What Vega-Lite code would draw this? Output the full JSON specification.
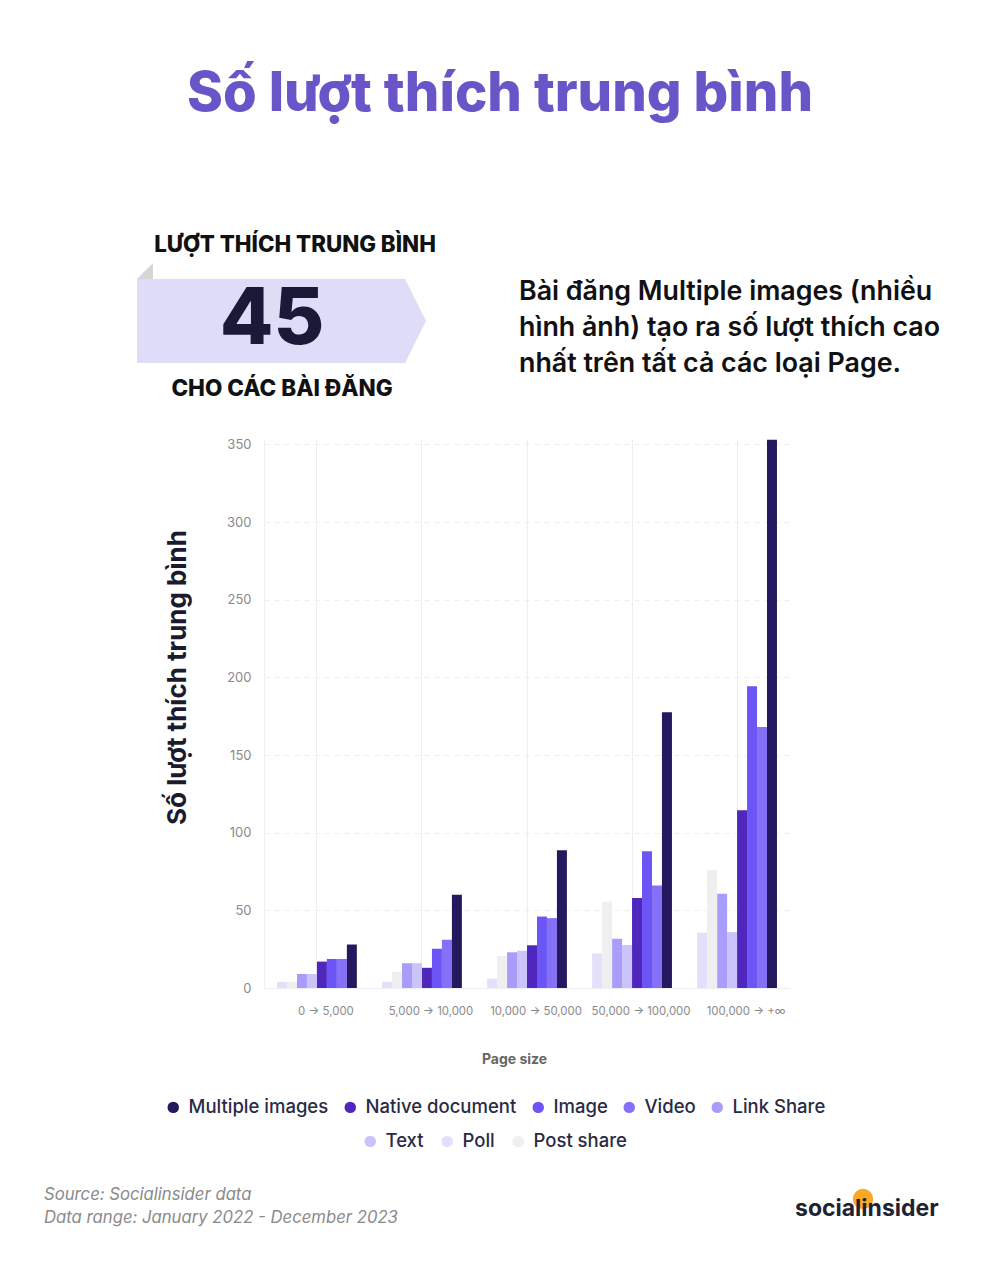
{"$schema":"https://vega.github.io/schema/vega-lite/v6.json","width":526,"height":549,"autosize":{"type":"none"},"padding":{"left":264,"top":439,"right":210,"bottom":282},"background":"white","config":{"font":"Inter","view":{"stroke":null}},
"data":{"values":[
{"size":"0 → 5,000","series":"Poll","likes":4},{"size":"0 → 5,000","series":"Post share","likes":4},{"size":"0 → 5,000","series":"Link Share","likes":9},{"size":"0 → 5,000","series":"Text","likes":9},{"size":"0 → 5,000","series":"Native document","likes":17},{"size":"0 → 5,000","series":"Image","likes":18.7},{"size":"0 → 5,000","series":"Video","likes":18.7},{"size":"0 → 5,000","series":"Multiple images","likes":28},
{"size":"5,000 → 10,000","series":"Poll","likes":4},{"size":"5,000 → 10,000","series":"Post share","likes":10.5},{"size":"5,000 → 10,000","series":"Link Share","likes":16},{"size":"5,000 → 10,000","series":"Text","likes":16},{"size":"5,000 → 10,000","series":"Native document","likes":13},{"size":"5,000 → 10,000","series":"Image","likes":25.3},{"size":"5,000 → 10,000","series":"Video","likes":31},{"size":"5,000 → 10,000","series":"Multiple images","likes":60},
{"size":"10,000 → 50,000","series":"Poll","likes":6},{"size":"10,000 → 50,000","series":"Post share","likes":20.6},{"size":"10,000 → 50,000","series":"Link Share","likes":23},{"size":"10,000 → 50,000","series":"Text","likes":24},{"size":"10,000 → 50,000","series":"Native document","likes":27.5},{"size":"10,000 → 50,000","series":"Image","likes":46},{"size":"10,000 → 50,000","series":"Video","likes":45},{"size":"10,000 → 50,000","series":"Multiple images","likes":88.7},
{"size":"50,000 → 100,000","series":"Poll","likes":22.3},{"size":"50,000 → 100,000","series":"Post share","likes":55.5},{"size":"50,000 → 100,000","series":"Link Share","likes":31.7},{"size":"50,000 → 100,000","series":"Text","likes":27.7},{"size":"50,000 → 100,000","series":"Native document","likes":58},{"size":"50,000 → 100,000","series":"Image","likes":88},{"size":"50,000 → 100,000","series":"Video","likes":66},{"size":"50,000 → 100,000","series":"Multiple images","likes":177.6},
{"size":"100,000 → +∞","series":"Poll","likes":35.6},{"size":"100,000 → +∞","series":"Post share","likes":76},{"size":"100,000 → +∞","series":"Link Share","likes":60.7},{"size":"100,000 → +∞","series":"Text","likes":36},{"size":"100,000 → +∞","series":"Native document","likes":114.5},{"size":"100,000 → +∞","series":"Image","likes":194.3},{"size":"100,000 → +∞","series":"Video","likes":168},{"size":"100,000 → +∞","series":"Multiple images","likes":353}
]},
"encoding":{
"x":{"field":"size","type":"nominal","sort":null,"scale":{"paddingInner":0.24,"paddingOuter":0.124},"axis":{"title":"Page size","titleFontSize":14,"titleFontWeight":700,"titleColor":"#666666","titleX":250,"titleY":64,"labelAngle":0,"labelFontSize":11.4,"labelColor":"#8a8a8a","labelPadding":17,"labelOffset":9,"ticks":false,"domainColor":"#eeeef2","grid":true,"gridColor":"#eeeef2","labelFlush":false}},
"xOffset":{"field":"series","type":"nominal","scale":{"domain":["Poll","Post share","Link Share","Text","Native document","Image","Video","Multiple images"],"paddingInner":0,"paddingOuter":0}},
"y":{"field":"likes","type":"quantitative","scale":{"domain":[0,353.5],"nice":false},"axis":{"title":"Số lượt thích trung bình","titleFontSize":26,"titleFontWeight":700,"titleColor":"#1c1b2e","titleX":-74,"titleY":238,"values":[0,50,100,150,200,250,300,350],"labelFontSize":13,"labelColor":"#8a8a8a","labelPadding":13,"ticks":false,"domainColor":"#eeeef2","gridColor":"#eeeef2","gridDash":[5,5]}}
},
"layer":[
{"transform":[{"filter":"indexof(['Multiple images','Native document','Image','Video','Link Share'],datum.series)>=0"}],"mark":{"type":"bar"},"encoding":{"color":{"field":"series","type":"nominal","scale":{"domain":["Multiple images","Native document","Image","Video","Link Share"],"range":["#26185f","#4f27bd","#6c55f5","#8570f8","#a99dfc"]},"legend":{"title":null,"orient":"none","legendX":-100,"legendY":659,"direction":"horizontal","columns":5,"symbolType":"circle","symbolSize":130,"labelFontSize":18.5,"labelFontWeight":500,"labelColor":"#2b2a45","labelOffset":6,"columnPadding":12,"labelLimit":300}}}},
{"transform":[{"filter":"indexof(['Text','Poll','Post share'],datum.series)>=0"}],"mark":{"type":"bar"},"encoding":{"fill":{"field":"series","type":"nominal","scale":{"domain":["Text","Poll","Post share"],"range":["#cbc3fb","#e4e0fb","#efefef"]},"legend":{"title":null,"orient":"none","legendX":97,"legendY":693,"direction":"horizontal","columns":3,"symbolType":"circle","symbolSize":130,"labelFontSize":18.5,"labelFontWeight":500,"labelColor":"#2b2a45","labelOffset":6,"columnPadding":14,"labelLimit":300}}}},
{"data":{"values":[{"t":"Số lượt thích trung bình"}]},"mark":{"type":"text","x":236,"y":-344,"align":"center","baseline":"middle","fontSize":54.5,"fontWeight":800,"color":"#6a55c8"},"encoding":{"text":{"field":"t"},"x":null,"y":null,"xOffset":null}},
{"data":{"values":[{"t":"LƯỢT THÍCH TRUNG BÌNH"}]},"mark":{"type":"text","x":31,"y":-194,"align":"center","baseline":"middle","fontSize":22.3,"fontWeight":800,"color":"#111111"},"encoding":{"text":{"field":"t"},"x":null,"y":null,"xOffset":null}},
{"data":{"values":[{"t":"fold"}]},"mark":{"type":"point","x":-119,"y":-168,"filled":true,"opacity":1,"size":256,"color":"#d6d6d6","shape":"M-1,1 L1,1 L1,-1 Z"},"encoding":{"x":null,"y":null,"xOffset":null}},
{"data":{"values":[{"t":"banner"}]},"mark":{"type":"point","x":17.5,"y":-118,"filled":true,"opacity":1,"size":83521,"color":"#dfdcf7","shape":"M-1,-0.2907 L0.855,-0.2907 L1,0 L0.855,0.2907 L-1,0.2907 Z"},"encoding":{"x":null,"y":null,"xOffset":null}},
{"data":{"values":[{"t":"45"}]},"mark":{"type":"text","x":8,"y":-118,"align":"center","baseline":"middle","fontSize":78,"fontWeight":800,"color":"#1c1838"},"encoding":{"text":{"field":"t"},"x":null,"y":null,"xOffset":null}},
{"data":{"values":[{"t":"CHO CÁC BÀI ĐĂNG"}]},"mark":{"type":"text","x":18,"y":-50,"align":"center","baseline":"middle","fontSize":22.5,"fontWeight":800,"color":"#111111"},"encoding":{"text":{"field":"t"},"x":null,"y":null,"xOffset":null}},
{"data":{"values":[{"t":"Bài đăng Multiple images (nhiều"}]},"mark":{"type":"text","x":255,"y":-147,"align":"left","baseline":"middle","fontSize":26.8,"fontWeight":600,"color":"#111111"},"encoding":{"text":{"field":"t"},"x":null,"y":null,"xOffset":null}},
{"data":{"values":[{"t":"hình ảnh) tạo ra số lượt thích cao"}]},"mark":{"type":"text","x":255,"y":-111,"align":"left","baseline":"middle","fontSize":26.8,"fontWeight":600,"color":"#111111"},"encoding":{"text":{"field":"t"},"x":null,"y":null,"xOffset":null}},
{"data":{"values":[{"t":"nhất trên tất cả các loại Page."}]},"mark":{"type":"text","x":255,"y":-75,"align":"left","baseline":"middle","fontSize":26.8,"fontWeight":600,"color":"#111111"},"encoding":{"text":{"field":"t"},"x":null,"y":null,"xOffset":null}},
{"data":{"values":[{"t":"Source: Socialinsider data"}]},"mark":{"type":"text","x":-220,"y":756,"align":"left","baseline":"middle","fontSize":16.7,"fontStyle":"italic","color":"#8a8a8a"},"encoding":{"text":{"field":"t"},"x":null,"y":null,"xOffset":null}},
{"data":{"values":[{"t":"Data range: January 2022 - December 2023"}]},"mark":{"type":"text","x":-220,"y":779,"align":"left","baseline":"middle","fontSize":16.7,"fontStyle":"italic","color":"#8a8a8a"},"encoding":{"text":{"field":"t"},"x":null,"y":null,"xOffset":null}},
{"data":{"values":[{"t":"logo"}]},"mark":{"type":"point","x":599,"y":760,"filled":true,"opacity":1,"size":415,"color":"#f9a928"},"encoding":{"x":null,"y":null,"xOffset":null}},
{"data":{"values":[{"t":"socialinsider"}]},"mark":{"type":"text","x":531,"y":770,"align":"left","baseline":"middle","fontSize":23,"fontWeight":700,"color":"#1f2233"},"encoding":{"text":{"field":"t"},"x":null,"y":null,"xOffset":null}}
]}
